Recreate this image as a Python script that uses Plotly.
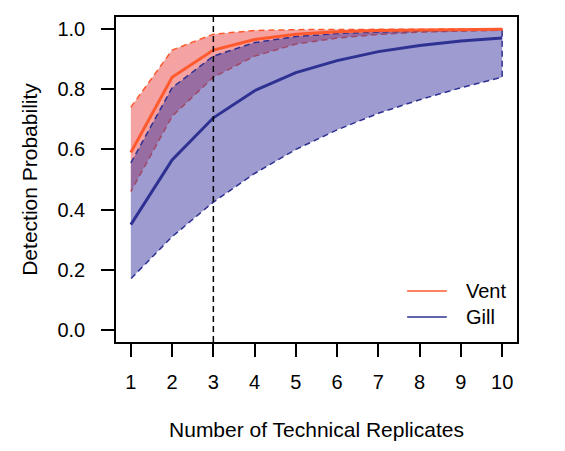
import plotly.graph_objects as go

# replicate counts and read-off detection probabilities
replicates = [1, 2, 3, 4, 5, 6, 7, 8, 9, 10]

vent_mean = [0.59, 0.84, 0.93, 0.965, 0.983, 0.991, 0.995, 0.997, 0.998, 0.999]
vent_upper = [0.74, 0.93, 0.983, 0.995, 0.998, 0.999, 1.0, 1.0, 1.0, 1.0]
vent_lower = [0.46, 0.71, 0.84, 0.91, 0.95, 0.97, 0.982, 0.99, 0.993, 0.996]

gill_mean = [0.35, 0.565, 0.705, 0.795, 0.855, 0.895, 0.925, 0.945, 0.96, 0.97]
gill_upper = [0.555, 0.805, 0.91, 0.955, 0.975, 0.985, 0.99, 0.994, 0.996, 0.997]
gill_lower = [0.17, 0.31, 0.425, 0.52, 0.60, 0.665, 0.72, 0.765, 0.805, 0.84]

y_ticks = [0.0, 0.2, 0.4, 0.6, 0.8, 1.0]
cutoff = 3
legend_names = ['Vent', 'Gill']

VENT = '#FF5A2E'
GILL = '#2E3192'
FONT = 'Liberation Sans, Arial, sans-serif'

fig = go.Figure()

# vent band: filled polygon with dashed border
fig.add_trace(go.Scatter(
    x=replicates + replicates[::-1],
    y=vent_upper + vent_lower[::-1],
    fill='toself',
    fillcolor='rgba(235, 70, 70, 0.5)',
    line=dict(color=VENT, width=1.5, dash='6px,4px'),
    mode='lines', showlegend=False, hoverinfo='skip'
))

# gill band drawn over it
fig.add_trace(go.Scatter(
    x=replicates + replicates[::-1],
    y=gill_upper + gill_lower[::-1],
    fill='toself',
    fillcolor='rgba(60, 56, 160, 0.5)',
    line=dict(color=GILL, width=1.5, dash='6px,4px'),
    mode='lines', showlegend=False, hoverinfo='skip'
))

fig.add_trace(go.Scatter(
    x=replicates, y=gill_mean, mode='lines',
    line=dict(color=GILL, width=3), showlegend=False
))
fig.add_trace(go.Scatter(
    x=replicates, y=vent_mean, mode='lines',
    line=dict(color=VENT, width=3), showlegend=False
))

fig.add_vline(x=cutoff, line=dict(color='black', width=1.5, dash='6px,4px'))

# hand-placed legend (thin 40px lines like the R legend)
for i, (name, col) in enumerate(zip(legend_names, [VENT, GILL])):
    ly = 0.157 - i * 0.08
    fig.add_shape(type='line', xref='paper', yref='paper',
                  x0=0.726, x1=0.825, y0=ly, y1=ly,
                  line=dict(color=col, width=1.5))
    fig.add_annotation(x=0.868, y=ly, xref='paper', yref='paper',
                       text=name, showarrow=False, xanchor='left',
                       yanchor='middle', font=dict(size=20))

fig.update_xaxes(
    range=[0.64, 10.36],
    tickvals=replicates,
    ticks='outside', ticklen=13, tickwidth=1.5, tickcolor='black',
    showline=True, linecolor='black', linewidth=1.5, mirror=True,
    showgrid=False, zeroline=False, automargin=False,
    ticklabelstandoff=8, tickfont=dict(size=20),
    title=dict(text='Number of Technical Replicates', standoff=31,
               font=dict(size=21)),
)
fig.update_yaxes(
    range=[-0.04, 1.04],
    tickvals=y_ticks, tickformat='.1f',
    ticks='outside', ticklen=13, tickwidth=1.5, tickcolor='black',
    showline=True, linecolor='black', linewidth=1.5, mirror=True,
    showgrid=False, zeroline=False, automargin=False,
    ticklabelstandoff=12, tickfont=dict(size=20),
    title=dict(text='Detection Probability', standoff=14,
               font=dict(size=21)),
)

# page body adds an 8px margin, so shrink the figure to keep the box in place
fig.update_layout(
    width=557, height=443,
    margin=dict(l=108, r=48, t=9, b=109),
    paper_bgcolor='white', plot_bgcolor='white',
    font=dict(family=FONT, size=20, color='black'),
    showlegend=False,
)

fig.write_html("out.html")
